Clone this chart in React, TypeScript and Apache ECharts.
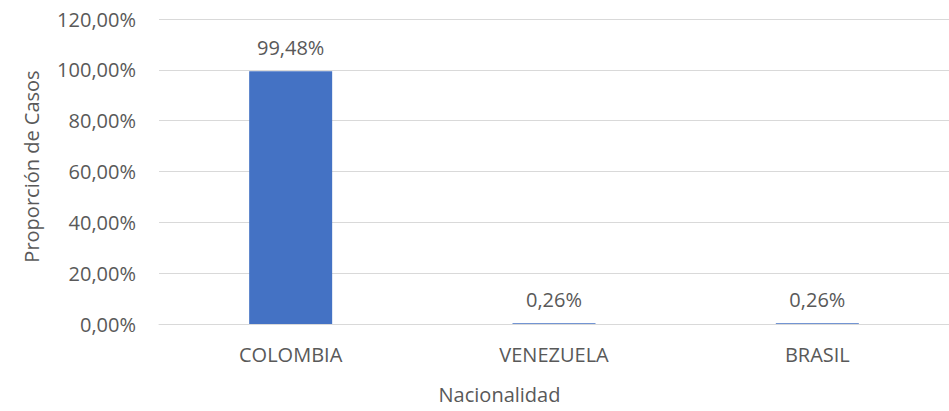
import React, { useEffect, useRef } from "react";
import * as echarts from "echarts";

const categories = ["COLOMBIA", "VENEZUELA", "BRASIL"];
const values = [99.48, 0.26, 0.26];
const yTitle = "Proporción de Casos";
const xTitle = "Nacionalidad";

const FONT = "'Open Sans', sans-serif";
const TEXT = "#595959";

const fmt = (v: number) => v.toFixed(2).replace(".", ",") + "%";

export default function App() {
  const ref = useRef<HTMLDivElement>(null);
  useEffect(() => {
    if (!ref.current) return;
    const chart = echarts.init(ref.current, undefined, { renderer: "svg" });
    chart.setOption({
      animation: false,
      backgroundColor: "#ffffff",
      textStyle: { fontFamily: FONT },
      grid: { left: 159, top: 19, width: 801, height: 305 },
      xAxis: {
        type: "category",
        data: categories,
        axisLine: { show: true, lineStyle: { color: "#d9d9d9", width: 1 } },
        axisTick: { show: false },
        axisLabel: { color: TEXT, fontSize: 20, fontFamily: FONT, margin: 20 },
        name: xTitle,
        nameLocation: "middle",
        nameGap: 60,
        nameTextStyle: { color: TEXT, fontSize: 20, fontFamily: FONT, padding: [0, 109, 0, 0] },
      },
      yAxis: {
        type: "value",
        min: 0,
        max: 120,
        interval: 20,
        axisLine: { show: false },
        axisTick: { show: false },
        splitLine: { lineStyle: { color: "#d9d9d9", width: 1 } },
        axisLabel: { color: TEXT, fontSize: 20, fontFamily: FONT, margin: 23, formatter: (v: number) => fmt(v) },
        name: yTitle,
        nameLocation: "middle",
        nameGap: 118,
        nameRotate: 90,
        nameTextStyle: { color: TEXT, fontSize: 20, fontFamily: FONT, padding: [0, 0, 0, 10] },
      },
      series: [
        {
          type: "bar",
          data: values,
          barWidth: 83,
          itemStyle: { color: "#4472C4" },
          label: {
            show: true,
            position: "top",
            distance: 14,
            color: TEXT,
            fontSize: 20,
            fontFamily: FONT,
            formatter: (p: any) => fmt(p.value),
          },
        },
      ],
    });
    return () => chart.dispose();
  }, []);
  return (
    <div
      ref={ref}
      style={{ position: "fixed", left: 0, top: 0, width: 949, height: 411, background: "#fff" }}
    />
  );
}
